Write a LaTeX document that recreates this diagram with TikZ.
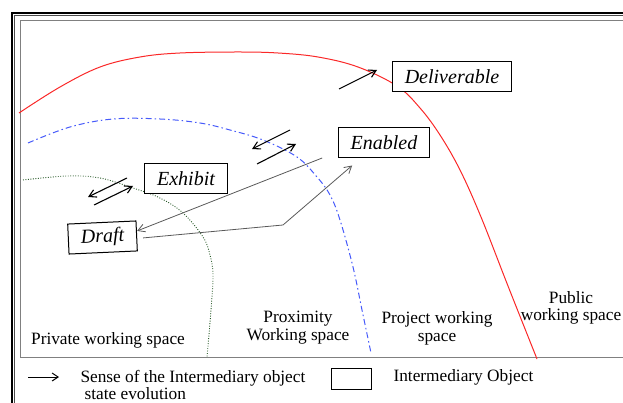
\documentclass[tikz,border=0pt]{standalone}
\usepackage{fontspec}
\setmainfont{Liberation Serif}
\usetikzlibrary{arrows.meta}

\definecolor{spacered}{RGB}{250,40,40}
\definecolor{spaceblue}{RGB}{70,90,250}
\definecolor{spacegreen}{RGB}{40,90,40}

\tikzset{
  iobox/.style={draw, fill=white, line width=1pt, inner xsep=12.5pt,
    minimum height=30pt, font=\fontsize{20}{24}\selectfont\itshape},
  zone/.style={align=center, font=\fontsize{17.3}{17.5}\selectfont},
  sense/.style={line width=1.1pt, -{Straight Barb[length=7pt,width=8pt]}},
  flow/.style={black!65, line width=0.8pt, -{Straight Barb[length=7pt,width=8pt]}},
}

\begin{document}
\begin{tikzpicture}[x=1pt,y=-1pt]
  \useasboundingbox (0,0) rectangle (623,403);
  % frame
  \draw[line width=1.8pt] (11.8,403) -- (11.8,12.8) -- (623,12.8);
  \draw[black!70,line width=1pt] (14.5,403) -- (14.5,15.5) -- (623,15.5);
  \draw[gray,line width=1.3pt] (623,20.7) -- (20.7,20.7) -- (20.7,357.5) -- (623,357.5);

  % working space limits
  \draw[spacered,line width=1pt] plot[smooth,tension=0.6] coordinates {
    (19,113) (60,87) (100,67) (140,57) (180,53) (238,52) (278,53) (318,57)
    (358,67) (397,86) (420,108) (440,135) (460,170) (481,217) (508,286) (537,359)};
  \draw[spaceblue,line width=1pt,dash pattern=on 6pt off 3pt on 1.5pt off 3pt]
    plot[smooth,tension=0.6] coordinates {
    (28,143) (70,127) (113,119) (160,119) (200,123) (230,130) (263,140) (297,157)
    (317,177) (330,195) (340,220) (353,267) (362,310) (371,353)};
  \draw[spacegreen,line width=0.9pt,dash pattern=on 0.9pt off 1.6pt]
    plot[smooth,tension=0.6] coordinates {
    (23,180) (67,176) (100,178) (133,188) (160,198) (183,213) (203,237)
    (210,255) (213,275) (211,310) (207,357)};

  % intermediary objects
  \node[iobox] (deliv) at (452,77) {Deliverable};
  \node[iobox] (enab) at (384,142.5) {Enabled};
  \node[iobox] (exhib) at (186,178.5) {Exhibit};
  \node[iobox,rotate=2.6] (draft) at (102.5,237.5) {Draft};

  % evolution
  \coordinate (bend) at (283,225);
  \draw[flow] ([xshift=-15.5pt]enab.south west) -- ([yshift=5pt]draft.east);
  \draw[flow] ([xshift=6pt,yshift=-2pt]draft.east) -- (bend)
    -- ([xshift=14.5pt,yshift=-7.5pt]enab.south west);

  \draw[sense] (127,178) -- (88,197);
  \draw[sense] (94,205) -- (133,186);
  \draw[sense] (290,130) -- (252,149);
  \draw[sense] (257,164) -- (296,144);
  \draw[sense] (339,89) -- (377,70);

  % spaces
  \node[zone] (private) at (108,340) {Private working space};
  \node[zone] (proxim) at (298,327.5) {Proximity\\Working space};
  \node[zone] (project) at (437,328.5) {Project working\\space};
  \node[zone] (public) at (571,308) {Public\\working space};

  % legend
  \coordinate (keyfrom) at (28,377);
  \coordinate (keyto) at (59,377);
  \draw[line width=1pt,-{Straight Barb[length=6pt,width=8pt]}] (keyfrom) -- (keyto);
  \node[zone,align=left,anchor=west] (keysense) at (77,385)
    {Sense of the Intermediary object\\\hspace*{4pt}state evolution};
  \node[draw,line width=1pt,minimum width=40pt,minimum height=21pt] (keybox) at (351,378.5) {};
  \node[zone,anchor=west] (keyobj) at (390,377) {Intermediary Object};
\end{tikzpicture}
\end{document}
